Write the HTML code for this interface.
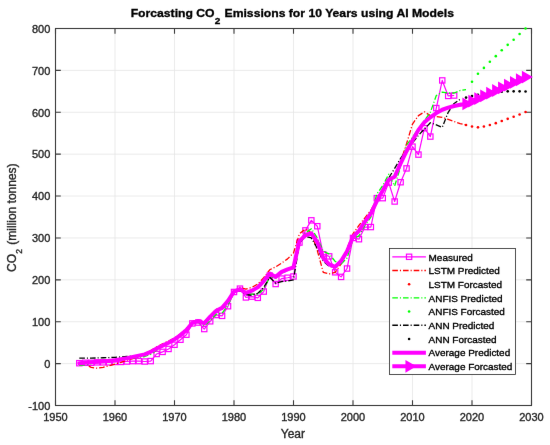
<!DOCTYPE html>
<html><head><meta charset="utf-8"><style>
html,body{margin:0;padding:0;background:#fff;width:550px;height:445px;overflow:hidden}
svg{display:block}
text{font-family:"Liberation Sans",sans-serif;stroke:currentColor;stroke-width:0.35px}
</style></head><body>
<svg width="550" height="445" viewBox="0 0 550 445">
<defs><filter id="bl" x="0" y="0" width="550" height="445" filterUnits="userSpaceOnUse" color-interpolation-filters="sRGB"><feConvolveMatrix order="3" kernelMatrix="0.00163 0.03713 0.00163 0.03713 0.84497 0.03713 0.00163 0.03713 0.00163" edgeMode="duplicate"/></filter></defs>
<g filter="url(#bl)">
<rect width="550" height="445" fill="#fff"/>
<g stroke="#e6e6e6" stroke-width="0.8" fill="none"><line x1="55.50" y1="28.5" x2="55.50" y2="405.50"/><line x1="115.00" y1="28.5" x2="115.00" y2="405.50"/><line x1="174.50" y1="28.5" x2="174.50" y2="405.50"/><line x1="234.00" y1="28.5" x2="234.00" y2="405.50"/><line x1="293.50" y1="28.5" x2="293.50" y2="405.50"/><line x1="353.00" y1="28.5" x2="353.00" y2="405.50"/><line x1="412.50" y1="28.5" x2="412.50" y2="405.50"/><line x1="472.00" y1="28.5" x2="472.00" y2="405.50"/><line x1="531.50" y1="28.5" x2="531.50" y2="405.50"/><line x1="55.5" y1="405.50" x2="531.50" y2="405.50"/><line x1="55.5" y1="363.61" x2="531.50" y2="363.61"/><line x1="55.5" y1="321.72" x2="531.50" y2="321.72"/><line x1="55.5" y1="279.83" x2="531.50" y2="279.83"/><line x1="55.5" y1="237.94" x2="531.50" y2="237.94"/><line x1="55.5" y1="196.06" x2="531.50" y2="196.06"/><line x1="55.5" y1="154.17" x2="531.50" y2="154.17"/><line x1="55.5" y1="112.28" x2="531.50" y2="112.28"/><line x1="55.5" y1="70.39" x2="531.50" y2="70.39"/><line x1="55.5" y1="28.50" x2="531.50" y2="28.50"/></g>
<g stroke="#3a3a3a" stroke-width="1.1" fill="none">
<rect x="55.5" y="28.5" width="476" height="377"/>
<path d="M55.50,405.50v-5.3 M55.50,28.5v5.3 M115.00,405.50v-5.3 M115.00,28.5v5.3 M174.50,405.50v-5.3 M174.50,28.5v5.3 M234.00,405.50v-5.3 M234.00,28.5v5.3 M293.50,405.50v-5.3 M293.50,28.5v5.3 M353.00,405.50v-5.3 M353.00,28.5v5.3 M412.50,405.50v-5.3 M412.50,28.5v5.3 M472.00,405.50v-5.3 M472.00,28.5v5.3 M531.50,405.50v-5.3 M531.50,28.5v5.3 M55.5,405.50h5.3 M531.50,405.50h-5.3 M55.5,363.61h5.3 M531.50,363.61h-5.3 M55.5,321.72h5.3 M531.50,321.72h-5.3 M55.5,279.83h5.3 M531.50,279.83h-5.3 M55.5,237.94h5.3 M531.50,237.94h-5.3 M55.5,196.06h5.3 M531.50,196.06h-5.3 M55.5,154.17h5.3 M531.50,154.17h-5.3 M55.5,112.28h5.3 M531.50,112.28h-5.3 M55.5,70.39h5.3 M531.50,70.39h-5.3 M55.5,28.50h5.3 M531.50,28.50h-5.3"/>
</g>
<defs><clipPath id="ax"><rect x="55.5" y="28.5" width="476" height="377"/></clipPath></defs>
<g clip-path="url(#ax)" fill="none" stroke-linejoin="round">
<polyline points="79.30,363.19 85.25,362.77 91.20,362.77 97.15,362.35 103.10,362.35 109.05,362.35 115.00,361.94 120.95,361.94 126.90,361.52 132.85,361.10 138.80,361.10 144.75,361.52 150.70,361.10 156.65,353.98 162.60,351.88 168.55,348.95 174.50,344.76 180.45,339.73 186.40,334.71 192.35,323.40 198.30,322.56 204.25,329.05 210.20,321.30 216.15,315.02 222.10,315.86 228.05,306.22 234.00,291.98 239.95,288.63 245.90,297.43 251.85,296.59 257.80,297.85 263.75,291.56 269.70,275.64 275.65,284.02 281.60,278.58 287.55,277.74 293.50,276.48 299.45,242.55 305.40,230.40 311.35,220.35 317.30,226.22 323.25,254.28 329.20,256.38 335.15,272.29 341.10,276.90 347.05,268.52 353.00,237.94 358.95,239.20 364.90,227.05 370.85,227.05 376.80,198.15 382.75,198.15 388.70,182.65 394.65,201.50 400.60,182.23 406.55,168.41 412.50,146.63 418.45,154.59 424.40,128.20 430.35,136.57 436.30,108.09 442.25,80.44 448.20,95.94 454.15,95.52" stroke="#f0f" stroke-width="1.2"/>
</g>
<g stroke="#f0f" stroke-width="1.2" fill="none"><rect x="76.65" y="360.54" width="5.3" height="5.3"/><rect x="82.60" y="360.12" width="5.3" height="5.3"/><rect x="88.55" y="360.12" width="5.3" height="5.3"/><rect x="94.50" y="359.70" width="5.3" height="5.3"/><rect x="100.45" y="359.70" width="5.3" height="5.3"/><rect x="106.40" y="359.70" width="5.3" height="5.3"/><rect x="112.35" y="359.29" width="5.3" height="5.3"/><rect x="118.30" y="359.29" width="5.3" height="5.3"/><rect x="124.25" y="358.87" width="5.3" height="5.3"/><rect x="130.20" y="358.45" width="5.3" height="5.3"/><rect x="136.15" y="358.45" width="5.3" height="5.3"/><rect x="142.10" y="358.87" width="5.3" height="5.3"/><rect x="148.05" y="358.45" width="5.3" height="5.3"/><rect x="154.00" y="351.33" width="5.3" height="5.3"/><rect x="159.95" y="349.23" width="5.3" height="5.3"/><rect x="165.90" y="346.30" width="5.3" height="5.3"/><rect x="171.85" y="342.11" width="5.3" height="5.3"/><rect x="177.80" y="337.08" width="5.3" height="5.3"/><rect x="183.75" y="332.06" width="5.3" height="5.3"/><rect x="189.70" y="320.75" width="5.3" height="5.3"/><rect x="195.65" y="319.91" width="5.3" height="5.3"/><rect x="201.60" y="326.40" width="5.3" height="5.3"/><rect x="207.55" y="318.65" width="5.3" height="5.3"/><rect x="213.50" y="312.37" width="5.3" height="5.3"/><rect x="219.45" y="313.21" width="5.3" height="5.3"/><rect x="225.40" y="303.57" width="5.3" height="5.3"/><rect x="231.35" y="289.33" width="5.3" height="5.3"/><rect x="237.30" y="285.98" width="5.3" height="5.3"/><rect x="243.25" y="294.78" width="5.3" height="5.3"/><rect x="249.20" y="293.94" width="5.3" height="5.3"/><rect x="255.15" y="295.20" width="5.3" height="5.3"/><rect x="261.10" y="288.91" width="5.3" height="5.3"/><rect x="267.05" y="272.99" width="5.3" height="5.3"/><rect x="273.00" y="281.37" width="5.3" height="5.3"/><rect x="278.95" y="275.93" width="5.3" height="5.3"/><rect x="284.90" y="275.09" width="5.3" height="5.3"/><rect x="290.85" y="273.83" width="5.3" height="5.3"/><rect x="296.80" y="239.90" width="5.3" height="5.3"/><rect x="302.75" y="227.75" width="5.3" height="5.3"/><rect x="308.70" y="217.70" width="5.3" height="5.3"/><rect x="314.65" y="223.57" width="5.3" height="5.3"/><rect x="320.60" y="251.63" width="5.3" height="5.3"/><rect x="326.55" y="253.73" width="5.3" height="5.3"/><rect x="332.50" y="269.64" width="5.3" height="5.3"/><rect x="338.45" y="274.25" width="5.3" height="5.3"/><rect x="344.40" y="265.87" width="5.3" height="5.3"/><rect x="350.35" y="235.29" width="5.3" height="5.3"/><rect x="356.30" y="236.55" width="5.3" height="5.3"/><rect x="362.25" y="224.40" width="5.3" height="5.3"/><rect x="368.20" y="224.40" width="5.3" height="5.3"/><rect x="374.15" y="195.50" width="5.3" height="5.3"/><rect x="380.10" y="195.50" width="5.3" height="5.3"/><rect x="386.05" y="180.00" width="5.3" height="5.3"/><rect x="392.00" y="198.85" width="5.3" height="5.3"/><rect x="397.95" y="179.58" width="5.3" height="5.3"/><rect x="403.90" y="165.76" width="5.3" height="5.3"/><rect x="409.85" y="143.98" width="5.3" height="5.3"/><rect x="415.80" y="151.94" width="5.3" height="5.3"/><rect x="421.75" y="125.55" width="5.3" height="5.3"/><rect x="427.70" y="133.92" width="5.3" height="5.3"/><rect x="433.65" y="105.44" width="5.3" height="5.3"/><rect x="439.60" y="77.79" width="5.3" height="5.3"/><rect x="445.55" y="93.29" width="5.3" height="5.3"/><rect x="451.50" y="92.87" width="5.3" height="5.3"/></g>
<g clip-path="url(#ax)" fill="none" stroke-linejoin="round">
<polyline points="88.82,366.12 91.20,367.38 97.15,368.22 103.10,367.38 109.05,365.71 115.00,364.03 120.95,362.35 126.90,360.26 132.85,358.58 138.80,356.91 144.75,353.56 150.70,350.63 156.65,346.86 162.60,343.92 168.55,340.99 174.50,338.06 180.45,333.87 186.40,328.42 192.35,321.72 198.30,320.05 204.25,321.72 210.20,315.44 216.15,309.16 222.10,307.06 228.05,300.78 234.00,291.56 239.95,287.37 245.90,289.05 251.85,287.37 257.80,284.02 263.75,277.74 269.70,269.78 275.65,266.85 281.60,263.08 287.55,258.89 293.50,253.02 299.45,233.76 305.40,229.15 311.35,232.92 317.30,250.51 323.25,272.29 329.20,273.97 335.15,272.29 341.10,263.92 347.05,248.42 353.00,233.76 358.95,225.38 364.90,217.84 370.85,210.30 376.80,199.41 382.75,191.03 388.70,181.39 394.65,176.37 400.60,161.71 406.55,143.69 412.50,124.01 418.45,115.63 424.40,111.86 430.35,115.63 436.30,116.47 442.25,117.30 448.20,119.40 454.15,121.49 460.10,123.59 466.05,124.84" stroke="#f00" stroke-width="1.3" stroke-dasharray="5.6 2.0 1.1 2.0"/>
</g>
<circle cx="466.05" cy="124.93" r="1.3" fill="#f00"/><circle cx="472.00" cy="126.52" r="1.3" fill="#f00"/><circle cx="477.95" cy="127.36" r="1.3" fill="#f00"/><circle cx="483.90" cy="126.52" r="1.3" fill="#f00"/><circle cx="489.85" cy="125.05" r="1.3" fill="#f00"/><circle cx="495.80" cy="123.17" r="1.3" fill="#f00"/><circle cx="501.75" cy="121.07" r="1.3" fill="#f00"/><circle cx="507.70" cy="118.85" r="1.3" fill="#f00"/><circle cx="513.65" cy="116.76" r="1.3" fill="#f00"/><circle cx="519.60" cy="114.46" r="1.3" fill="#f00"/><circle cx="525.55" cy="111.94" r="1.3" fill="#f00"/>
<g clip-path="url(#ax)" fill="none" stroke-linejoin="round">
<polyline points="79.30,365.29 85.25,364.87 91.20,363.61 97.15,362.77 103.10,361.94 109.05,361.10 115.00,360.26 120.95,359.42 126.90,358.58 132.85,357.75 138.80,357.33 144.75,356.49 150.70,354.40 156.65,350.21 162.60,346.44 168.55,343.09 174.50,339.73 180.45,335.55 186.40,330.52 192.35,323.82 198.30,322.14 204.25,325.91 210.20,320.47 216.15,314.18 222.10,313.34 228.05,304.97 234.00,292.40 239.95,288.21 245.90,294.08 251.85,294.08 257.80,294.49 263.75,289.05 269.70,276.90 275.65,277.74 281.60,273.13 287.55,270.62 293.50,268.52 299.45,244.23 305.40,232.92 311.35,228.73 317.30,237.94 323.25,251.35 329.20,253.86 335.15,261.40 341.10,263.92 347.05,258.05 353.00,238.78 358.95,235.85 364.90,225.38 370.85,217.00 376.80,193.96 382.75,185.58 388.70,174.27 394.65,186.00 400.60,166.73 406.55,144.95 412.50,137.41 418.45,128.61 424.40,120.66 430.35,112.28 436.30,95.52 442.25,92.17 448.20,93.01 454.15,93.01 460.10,90.50 466.05,89.66" stroke="#0f0" stroke-width="1.3" stroke-dasharray="5.6 2.0 1.1 2.0"/>
</g>
<circle cx="472.00" cy="81.70" r="1.3" fill="#0f0"/><circle cx="477.95" cy="73.74" r="1.3" fill="#0f0"/><circle cx="483.90" cy="67.88" r="1.3" fill="#0f0"/><circle cx="489.85" cy="61.80" r="1.3" fill="#0f0"/><circle cx="495.80" cy="56.15" r="1.3" fill="#0f0"/><circle cx="501.75" cy="50.28" r="1.3" fill="#0f0"/><circle cx="507.70" cy="44.84" r="1.3" fill="#0f0"/><circle cx="513.65" cy="39.81" r="1.3" fill="#0f0"/><circle cx="519.60" cy="33.95" r="1.3" fill="#0f0"/><circle cx="525.55" cy="28.50" r="1.3" fill="#0f0"/>
<g clip-path="url(#ax)" fill="none" stroke-linejoin="round">
<polyline points="79.30,358.17 85.25,358.17 91.20,358.17 97.15,357.96 103.10,357.75 109.05,357.54 115.00,357.33 120.95,356.91 126.90,356.49 132.85,356.07 138.80,355.23 144.75,353.98 150.70,351.88 156.65,348.53 162.60,345.18 168.55,341.83 174.50,338.48 180.45,334.29 186.40,328.84 192.35,322.56 198.30,321.72 204.25,322.98 210.20,317.53 216.15,311.67 222.10,309.16 228.05,302.03 234.00,292.40 239.95,290.31 245.90,294.49 251.85,295.33 257.80,293.24 263.75,287.37 269.70,277.32 275.65,283.18 281.60,281.51 287.55,281.09 293.50,279.83 299.45,242.97 305.40,236.27 311.35,237.94 317.30,248.42 323.25,260.98 329.20,266.43 335.15,267.27 341.10,263.08 347.05,252.61 353.00,237.94 358.95,231.66 364.90,221.19 370.85,211.55 376.80,198.99 382.75,189.35 388.70,178.04 394.65,168.41 400.60,158.36 406.55,149.98 412.50,142.86 418.45,135.32 424.40,129.03 430.35,122.75 436.30,124.84 442.25,127.36 448.20,112.28 454.15,103.48 460.10,99.29" stroke="#000" stroke-width="1.3" stroke-dasharray="5.6 2.0 1.1 2.0"/>
</g>
<circle cx="466.05" cy="97.62" r="1.3" fill="#000"/><circle cx="472.00" cy="95.94" r="1.3" fill="#000"/><circle cx="477.95" cy="94.68" r="1.3" fill="#000"/><circle cx="483.90" cy="93.43" r="1.3" fill="#000"/><circle cx="489.85" cy="92.59" r="1.3" fill="#000"/><circle cx="495.80" cy="92.17" r="1.3" fill="#000"/><circle cx="501.75" cy="91.75" r="1.3" fill="#000"/><circle cx="507.70" cy="91.33" r="1.3" fill="#000"/><circle cx="513.65" cy="91.33" r="1.3" fill="#000"/><circle cx="519.60" cy="91.33" r="1.3" fill="#000"/><circle cx="525.55" cy="91.54" r="1.3" fill="#000"/>
<g clip-path="url(#ax)" fill="none" stroke-linejoin="round">
<polyline points="79.30,363.19 91.20,362.35 103.10,361.52 115.00,360.26 126.90,358.17 132.85,356.91 138.80,355.65 144.75,354.40 150.70,351.88 156.65,348.53 162.60,345.60 168.55,342.67 174.50,339.32 180.45,335.13 186.40,330.10 192.35,322.98 198.30,320.88 204.25,323.40 210.20,316.70 216.15,310.83 222.10,307.90 228.05,300.78 234.00,291.56 239.95,289.05 245.90,292.82 251.85,290.72 257.80,287.37 263.75,281.09 269.70,273.55 275.65,276.90 281.60,271.87 287.55,269.36 293.50,267.27 299.45,240.88 305.40,235.43 311.35,233.34 317.30,242.13 323.25,258.05 329.20,264.33 335.15,266.85 341.10,260.98 347.05,251.35 353.00,236.69 358.95,230.82 364.90,221.61 370.85,213.65 376.80,201.08 382.75,190.61 388.70,179.72 394.65,176.79 400.60,163.38 406.55,151.23 412.50,140.34 418.45,129.87 424.40,122.33 430.35,117.30 436.30,113.12 442.25,109.76 448.20,107.67 454.15,105.99 460.10,104.74" stroke="#f0f" stroke-width="4" stroke-linecap="round"/>
<polyline points="460.10,104.74 466.05,103.90 472.00,101.22 477.95,98.54 483.90,95.86 489.85,93.18 495.80,90.50 501.75,87.81 507.70,85.13 513.65,82.45 519.60,79.77 525.55,77.09" stroke="#f0f" stroke-width="4"/>
</g>
<path d="M462.38,97.50 L473.38,103.90 L462.38,110.30 Z M468.33,94.82 L479.33,101.22 L468.33,107.62 Z M474.28,92.14 L485.28,98.54 L474.28,104.94 Z M480.23,89.46 L491.23,95.86 L480.23,102.26 Z M486.18,86.78 L497.18,93.18 L486.18,99.58 Z M492.13,84.10 L503.13,90.50 L492.13,96.90 Z M498.08,81.41 L509.08,87.81 L498.08,94.21 Z M504.03,78.73 L515.03,85.13 L504.03,91.53 Z M509.98,76.05 L520.98,82.45 L509.98,88.85 Z M515.93,73.37 L526.93,79.77 L515.93,86.17 Z M521.88,70.69 L532.88,77.09 L521.88,83.49 Z" fill="#f0f"/>
<g font-size="11" fill="#262626" color="#262626"><text x="55.50" y="421.0" text-anchor="middle">1950</text><text x="115.00" y="421.0" text-anchor="middle">1960</text><text x="174.50" y="421.0" text-anchor="middle">1970</text><text x="234.00" y="421.0" text-anchor="middle">1980</text><text x="293.50" y="421.0" text-anchor="middle">1990</text><text x="353.00" y="421.0" text-anchor="middle">2000</text><text x="412.50" y="421.0" text-anchor="middle">2010</text><text x="472.00" y="421.0" text-anchor="middle">2020</text><text x="531.50" y="421.0" text-anchor="middle">2030</text><text x="50.3" y="409.80" text-anchor="end">-100</text><text x="50.3" y="367.91" text-anchor="end">0</text><text x="50.3" y="326.02" text-anchor="end">100</text><text x="50.3" y="284.13" text-anchor="end">200</text><text x="50.3" y="242.24" text-anchor="end">300</text><text x="50.3" y="200.36" text-anchor="end">400</text><text x="50.3" y="158.47" text-anchor="end">500</text><text x="50.3" y="116.58" text-anchor="end">600</text><text x="50.3" y="74.69" text-anchor="end">700</text><text x="50.3" y="32.80" text-anchor="end">800</text></g>
<text x="292.9" y="438.0" font-size="12" text-anchor="middle" fill="#262626" color="#262626">Year</text>
<text transform="translate(16.2,217.7) rotate(-90)" font-size="12" text-anchor="middle" fill="#262626" color="#262626">CO<tspan font-size="8.6" dy="5.5" dx="0.3">2</tspan><tspan dy="-5.5" dx="0.8"> (million tonnes)</tspan></text>
<text transform="translate(292.3,17.05) scale(1,0.95)" font-size="12.2" font-weight="bold" text-anchor="middle" fill="#000" color="#000">Forcasting CO<tspan font-size="10" dy="6.9" dx="0.1">2</tspan><tspan dy="-6.9" dx="0.9"> Emissions for 10 Years using AI Models</tspan></text>
<g font-size="9.95" fill="#000" color="#000"><rect x="389.5" y="248.5" width="126.0" height="126.0" fill="#fff" stroke="#262626" stroke-width="0.8"/><line x1="392.3" y1="256.8" x2="425.9" y2="256.8" stroke="#f0f" stroke-width="1.2"/><rect x="406.45000000000005" y="254.15" width="5.3" height="5.3" fill="none" stroke="#f0f" stroke-width="1.2"/><line x1="392.3" y1="270.49" x2="425.9" y2="270.49" stroke="#f00" stroke-width="1.3" stroke-dasharray="5.6 2.0 1.1 2.0"/><circle cx="409.1" cy="284.18" r="1.3" fill="#f00"/><line x1="392.3" y1="297.87" x2="425.9" y2="297.87" stroke="#0f0" stroke-width="1.3" stroke-dasharray="5.6 2.0 1.1 2.0"/><circle cx="409.1" cy="311.56" r="1.3" fill="#0f0"/><line x1="392.3" y1="325.25" x2="425.9" y2="325.25" stroke="#000" stroke-width="1.3" stroke-dasharray="5.6 2.0 1.1 2.0"/><circle cx="409.1" cy="338.94" r="1.3" fill="#000"/><line x1="392.3" y1="352.63" x2="425.9" y2="352.63" stroke="#f0f" stroke-width="4"/><line x1="392.3" y1="366.32" x2="425.9" y2="366.32" stroke="#f0f" stroke-width="4"/><path d="M405.43,359.92 L416.43,366.32 L405.43,372.72 Z" fill="#f0f"/><text x="428.6" y="260.50">Measured</text><text x="428.6" y="274.19">LSTM Predicted</text><text x="428.6" y="287.88">LSTM Forcasted</text><text x="428.6" y="301.57">ANFIS Predicted</text><text x="428.6" y="315.26">ANFIS Forcasted</text><text x="428.6" y="328.95">ANN Predicted</text><text x="428.6" y="342.64">ANN Forcasted</text><text x="428.6" y="356.33">Average Predicted</text><text x="428.6" y="370.02">Average Forcasted</text></g>
</g>
</svg>
</body></html>
